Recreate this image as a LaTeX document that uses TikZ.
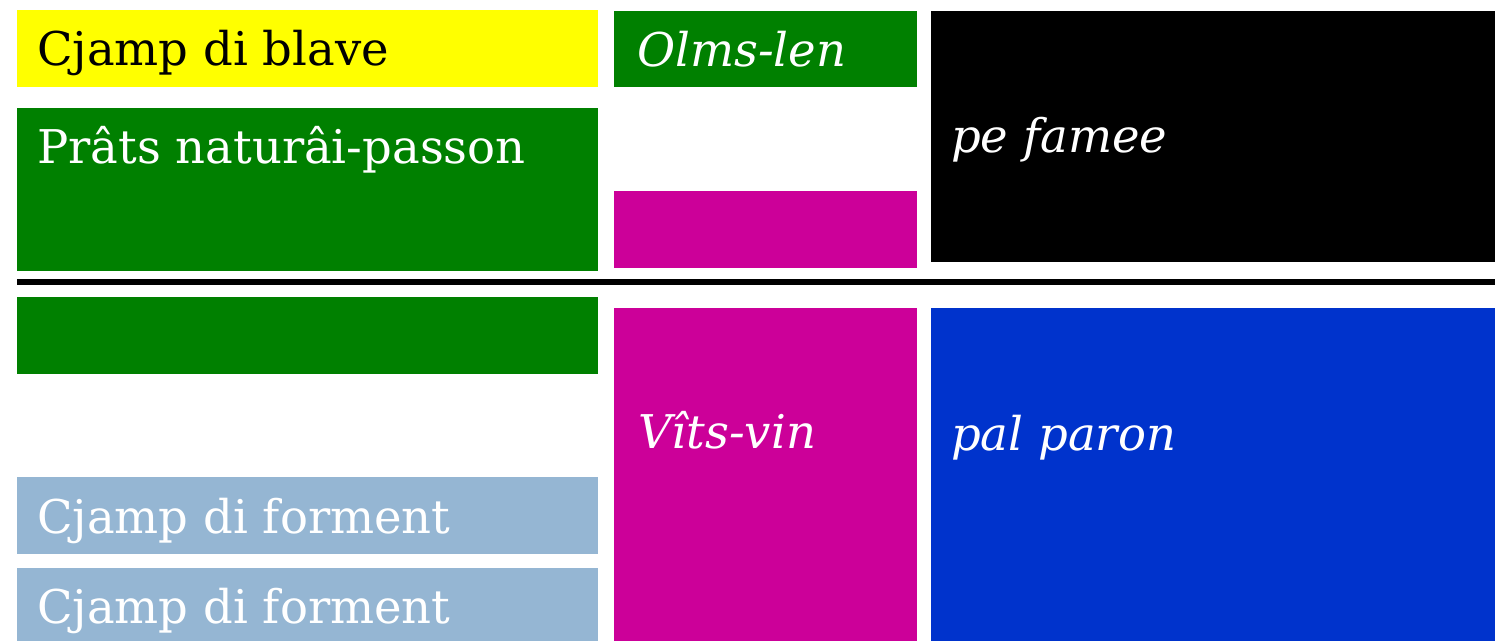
\documentclass[tikz,border=0pt]{standalone}
\usepackage{fontspec}
\setmainfont{DejaVu Serif}
\definecolor{cgreen}{HTML}{008000}
\definecolor{cmag}{HTML}{CC0099}
\definecolor{cblue}{HTML}{0033CC}
\definecolor{clight}{HTML}{95B6D3}
\definecolor{cyellow}{HTML}{FFFF00}
\tikzset{
  box/.style={draw=none, inner sep=0pt, outer sep=0pt, anchor=north west},
  lbl/.style={inner sep=0pt, anchor=base west, font=\fontsize{46.5}{56}\selectfont, text=white},
  ilbl/.style={lbl, font=\fontsize{46.5}{56}\selectfont\itshape},
}
\begin{document}
\begin{tikzpicture}[x=1pt,y=-1pt]
\useasboundingbox (0,0) rectangle (1495,641);
\fill[white] (0,0) rectangle (1495,641);
% left column
\node[box, fill=cyellow, minimum width=581pt, minimum height=77pt] (r1) at (17,10) {};
\node[box, fill=cgreen, minimum width=581pt, minimum height=163pt] (r2) at (17,108) {};
\node[box, fill=cgreen, minimum width=581pt, minimum height=77pt] (r3) at (17,297) {};
\node[box, fill=clight, minimum width=581pt, minimum height=77pt] (r4) at (17,477) {};
\node[box, fill=clight, minimum width=581pt, minimum height=73pt] (r5) at (17,568) {};
% middle column
\node[box, fill=cgreen, minimum width=303pt, minimum height=76pt] (m1) at (614,11) {};
\node[box, fill=cmag, minimum width=303pt, minimum height=77pt] (m2) at (614,191) {};
\node[box, fill=cmag, minimum width=303pt, minimum height=333pt] (m3) at (614,308) {};
% right column
\node[box, fill=black, minimum width=564pt, minimum height=251pt] (k1) at (931,11) {};
\node[box, fill=cblue, minimum width=564pt, minimum height=333pt] (k2) at (931,308) {};
% separator
\coordinate (sl) at (17,281.5);
\coordinate (sr) at (1495,281.5);
\draw[line width=6pt] (sl) -- (sr);
% labels
\node[lbl, text=black] (t1) at (37,65) {Cjamp di blave};
\node[lbl] (t2) at (37,163) {Prâts naturâi-passon};
\node[lbl] (t4) at (37,533) {Cjamp di forment};
\node[lbl] (t5) at (37,623) {Cjamp di forment};
\node[ilbl] (tm1) at (637,66) {Olms-len};
\node[ilbl] (tm3) at (638,448) {Vîts-vin};
\node[ilbl] (tk1) at (951,152) {pe famee};
\node[ilbl] (tk2) at (951,450) {pal paron};
\end{tikzpicture}
\end{document}
